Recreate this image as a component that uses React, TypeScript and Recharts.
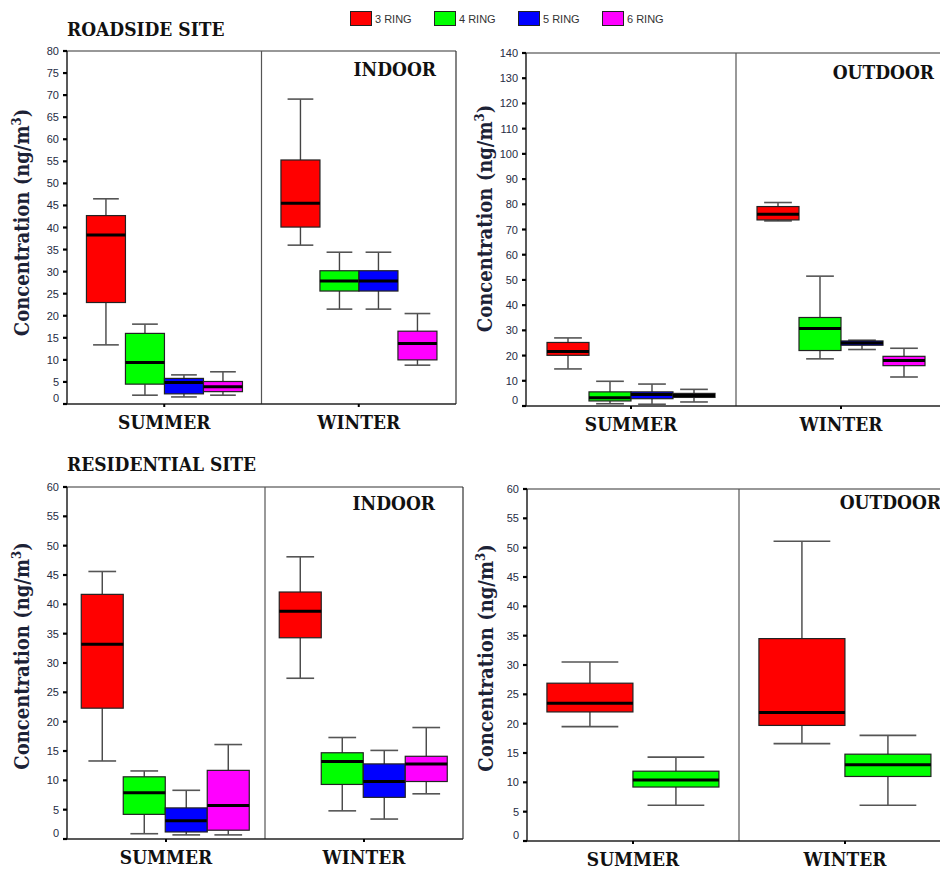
import React from "react";
import {
  ComposedChart,
  Bar,
  XAxis,
  YAxis,
  ReferenceLine,
  Legend,
} from "recharts";

const seasons = ["SUMMER", "WINTER"];
const rings = ["3 RING", "4 RING", "5 RING", "6 RING"];
const ringColors = ["#ff0000", "#00ff00", "#0000ff", "#ff00ff"];

// box stats: [min, q1, median, q3, max] for summer, winter
const roadIn3 = [[13.4, 23.0, 38.3, 42.7, 46.5], [36.0, 40.1, 45.5, 55.3, 69.1]];
const roadIn4 = [[2.0, 4.5, 9.4, 16.0, 18.1], [21.5, 25.6, 27.9, 30.2, 34.4]];
const roadIn5 = [[1.6, 2.3, 4.9, 5.8, 6.6], [21.5, 25.6, 27.9, 30.2, 34.4]];
const roadIn6 = [[2.0, 2.8, 3.9, 5.1, 7.3], [8.8, 10.0, 13.7, 16.5, 20.5]];

const roadOut3 = [[14.7, 20.1, 21.6, 25.2, 27.0], [73.4, 73.8, 76.0, 79.1, 80.7]];
const roadOut4 = [[0.9, 2.0, 3.3, 5.6, 9.8], [18.7, 22.0, 30.7, 35.1, 51.5]];
const roadOut5 = [[0.7, 2.9, 4.6, 5.6, 8.7], [22.4, 24.1, 25.0, 25.8, 26.1]];
const roadOut6 = [[1.6, 3.4, 4.2, 5.0, 6.6], [11.5, 16.0, 18.0, 19.7, 22.9]];

const resIn3 = [[13.3, 22.3, 33.2, 41.7, 45.6], [27.4, 34.3, 38.8, 42.1, 48.1]];
const resIn4 = [[0.9, 4.2, 7.9, 10.6, 11.6], [4.8, 9.3, 13.2, 14.7, 17.3]];
const resIn5 = [[0.7, 1.2, 3.1, 5.3, 8.3], [3.4, 7.1, 9.8, 12.8, 15.1]];
const resIn6 = [[0.7, 1.5, 5.7, 11.7, 16.1], [7.7, 9.8, 12.8, 14.1, 19.0]];

const resOut3 = [[19.5, 22.0, 23.5, 26.9, 30.5], [16.6, 19.7, 21.9, 34.5, 51.1]];
const resOut4 = [[6.1, 9.2, 10.4, 11.9, 14.3], [6.1, 11.0, 13.0, 14.8, 18.0]];

const ticks80 = [0, 5, 10, 15, 20, 25, 30, 35, 40, 45, 50, 55, 60, 65, 70, 75, 80];
const ticks140 = [0, 10, 20, 30, 40, 50, 60, 70, 80, 90, 100, 110, 120, 130, 140];
const ticks60 = [0, 5, 10, 15, 20, 25, 30, 35, 40, 45, 50, 55, 60];

const SERIF = "'DejaVu Serif Condensed', 'DejaVu Serif', serif";
const SANS = "'Liberation Sans', Arial, sans-serif";

function buildRows(series: number[][][]) {
  return seasons.map((season, i) => {
    const row: any = { season };
    series.forEach((s, k) => {
      row["r" + k] = s[i];
    });
    return row;
  });
}

function BoxShape(props: any) {
  const { x, y, width, height, fill, payload, statKey } = props;
  const stats = payload && payload[statKey];
  if (!stats) return null;
  const [mn, q1, md, q3, mx] = stats;
  const k = height / (q3 - q1);
  const py = (v: number) => y + (q3 - v) * k;
  const cx = x + width / 2;
  const cap = width * 0.33;
  return (
    <g>
      <line x1={cx} x2={cx} y1={py(mx)} y2={y} stroke="#444" strokeWidth={1.4} />
      <line x1={cx} x2={cx} y1={y + height} y2={py(mn)} stroke="#444" strokeWidth={1.4} />
      <line x1={cx - cap} x2={cx + cap} y1={py(mx)} y2={py(mx)} stroke="#555" strokeWidth={1.6} />
      <line x1={cx - cap} x2={cx + cap} y1={py(mn)} y2={py(mn)} stroke="#555" strokeWidth={1.6} />
      <rect x={x} y={y} width={width} height={height} fill={fill} stroke="#222" strokeWidth={1.2} />
      <line x1={x} x2={x + width} y1={py(md)} y2={py(md)} stroke="#000" strokeWidth={3} />
    </g>
  );
}

function YTick(props: any) {
  const { x, y, payload } = props;
  const lift = payload.value === 0 ? -6 : 0;
  return (
    <text
      x={x}
      y={y + lift}
      textAnchor="end"
      dominantBaseline="central"
      fontFamily={SANS}
      fontSize={11}
      fill="#262c44"
    >
      {payload.value}
    </text>
  );
}

function XTick(props: any) {
  const { x, y, payload } = props;
  return (
    <text
      x={x}
      y={y + 20}
      textAnchor="middle"
      fontFamily={SERIF}
      fontWeight="bold"
      fontSize={19}
      fill="#111"
    >
      {payload.value}
    </text>
  );
}

function TitleLabel(props: any) {
  const { viewBox, site, siteDy, place, placeInset, placeDy } = props;
  const vb = viewBox || { x: 0, y: 0, width: 0 };
  return (
    <g>
      {site && (
        <text
          x={vb.x}
          y={vb.y - siteDy}
          fontFamily={SERIF}
          fontWeight="bold"
          fontSize={19}
          fill="#111"
        >
          {site}
        </text>
      )}
      <text
        x={vb.x + vb.width - placeInset}
        y={vb.y + placeDy}
        textAnchor="end"
        fontFamily={SERIF}
        fontWeight="bold"
        fontSize={19}
        fill="#111"
      >
        {place}
      </text>
    </g>
  );
}

function LegendContent(props: any) {
  const { payload } = props;
  return (
    <div style={{ display: "flex", fontFamily: SANS, fontSize: 11, color: "#333" }}>
      {(payload || []).map((entry: any) => (
        <div key={entry.value} style={{ display: "flex", alignItems: "center", width: 84 }}>
          <span
            style={{
              display: "inline-block",
              width: 20,
              height: 13,
              background: entry.color,
              border: "1px solid #222",
              marginRight: 3,
            }}
          />
          <span>{entry.value}</span>
        </div>
      ))}
    </div>
  );
}

type PanelProps = {
  left: number;
  top: number;
  width: number;
  height: number;
  margin: { top: number; right: number; bottom: number; left: number };
  yMax: number;
  ticks: number[];
  series: number[][][];
  gap: string;
  site?: string;
  siteDy: number;
  place: string;
  placeInset: number;
  placeDy: number;
  labelDx: number;
  labelDy: number;
  showLegend?: boolean;
};

function BoxPanel(p: PanelProps) {
  const rows = buildRows(p.series);
  return (
    <div style={{ position: "absolute", left: p.left, top: p.top }}>
      <ComposedChart
        width={p.width}
        height={p.height}
        data={rows}
        margin={p.margin}
        barCategoryGap={p.gap}
        barGap={0}
      >
        <XAxis
          dataKey="season"
          interval={0}
          height={30}
          tickSize={3}
          tickLine={{ stroke: "#000", strokeWidth: 2 }}
          axisLine={{ stroke: "#222", strokeWidth: 1.5 }}
          tick={<XTick />}
        />
        <YAxis
          type="number"
          domain={[0, p.yMax]}
          ticks={p.ticks}
          interval={0}
          width={30}
          tickSize={4}
          tickMargin={4}
          tickLine={{ stroke: "#000", strokeWidth: 2.2 }}
          axisLine={{ stroke: "#222", strokeWidth: 1.5 }}
          tick={<YTick />}
          label={{
            content: (lp: any) => {
              const vb = lp.viewBox || {};
              const cx = vb.x + p.labelDx;
              const cy = vb.y + vb.height / 2 + p.labelDy;
              return (
                <text
                  x={cx}
                  y={cy}
                  transform={`rotate(-90, ${cx}, ${cy})`}
                  textAnchor="middle"
                  dominantBaseline="central"
                  fontFamily={SERIF}
                  fontWeight="bold"
                  fontSize={20}
                  fill="#1c2236"
                >
                  Concentration (ng/m
                  <tspan dy={-6} fontSize={13}>
                    3
                  </tspan>
                  <tspan dy={6}>)</tspan>
                </text>
              );
            },
          }}
        />
        <ReferenceLine
          y={p.yMax}
          stroke="#333"
          strokeWidth={1.2}
          label={
            <TitleLabel
              site={p.site}
              siteDy={p.siteDy}
              place={p.place}
              placeInset={p.placeInset}
              placeDy={p.placeDy}
            />
          }
        />
        <ReferenceLine x="WINTER" position="start" stroke="#555" strokeWidth={1.2} />
        <ReferenceLine x="WINTER" position="end" stroke="#333" strokeWidth={1.2} />
        {p.showLegend && (
          <Legend
            layout="horizontal"
            verticalAlign="middle"
            align="center"
            wrapperStyle={{ position: "absolute", top: 11, left: 350, width: 360 }}
            content={<LegendContent />}
          />
        )}
        {p.series.map((_, k) => (
          <Bar
            key={rings[k]}
            name={rings[k]}
            dataKey={(d: any) => [d["r" + k][1], d["r" + k][3]]}
            fill={ringColors[k]}
            isAnimationActive={false}
            shape={(sp: any) => <BoxShape {...sp} statKey={"r" + k} />}
          />
        ))}
      </ComposedChart>
    </div>
  );
}

export default function App() {
  return (
    <div
      style={{
        position: "absolute",
        left: 0,
        top: 0,
        width: 940,
        height: 872,
        overflow: "hidden",
        background: "#fff",
      }}
    >
      <BoxPanel
        left={0}
        top={0}
        width={470}
        height={440}
        margin={{ top: 51, right: 14, bottom: 6, left: 37 }}
        yMax={80}
        ticks={ticks80}
        series={[roadIn3, roadIn4, roadIn5, roadIn6]}
        gap="10%"
        site="ROADSIDE SITE"
        siteDy={15}
        place="INDOOR"
        placeInset={20}
        placeDy={25}
        labelDx={-15}
        labelDy={-5}
        showLegend
      />
      <BoxPanel
        left={460}
        top={0}
        width={500}
        height={440}
        margin={{ top: 53, right: 14, bottom: 4, left: 36 }}
        yMax={140}
        ticks={ticks140}
        series={[roadOut3, roadOut4, roadOut5, roadOut6]}
        gap="10%"
        siteDy={15}
        place="OUTDOOR"
        placeInset={12}
        placeDy={26}
        labelDx={-11}
        labelDy={-11}
      />
      <BoxPanel
        left={0}
        top={440}
        width={480}
        height={432}
        margin={{ top: 47, right: 17, bottom: 3, left: 37 }}
        yMax={60}
        ticks={ticks60}
        series={[resIn3, resIn4, resIn5, resIn6]}
        gap="7.2%"
        site="RESIDENTIAL SITE"
        siteDy={16}
        place="INDOOR"
        placeInset={28}
        placeDy={23}
        labelDx={-15}
        labelDy={-7}
      />
      <BoxPanel
        left={460}
        top={440}
        width={505}
        height={432}
        margin={{ top: 49, right: 14, bottom: 1, left: 37 }}
        yMax={60}
        ticks={ticks60}
        series={[resOut3, resOut4]}
        gap="9.4%"
        siteDy={15}
        place="OUTDOOR"
        placeInset={10}
        placeDy={20}
        labelDx={-11}
        labelDy={-7}
      />
    </div>
  );
}
